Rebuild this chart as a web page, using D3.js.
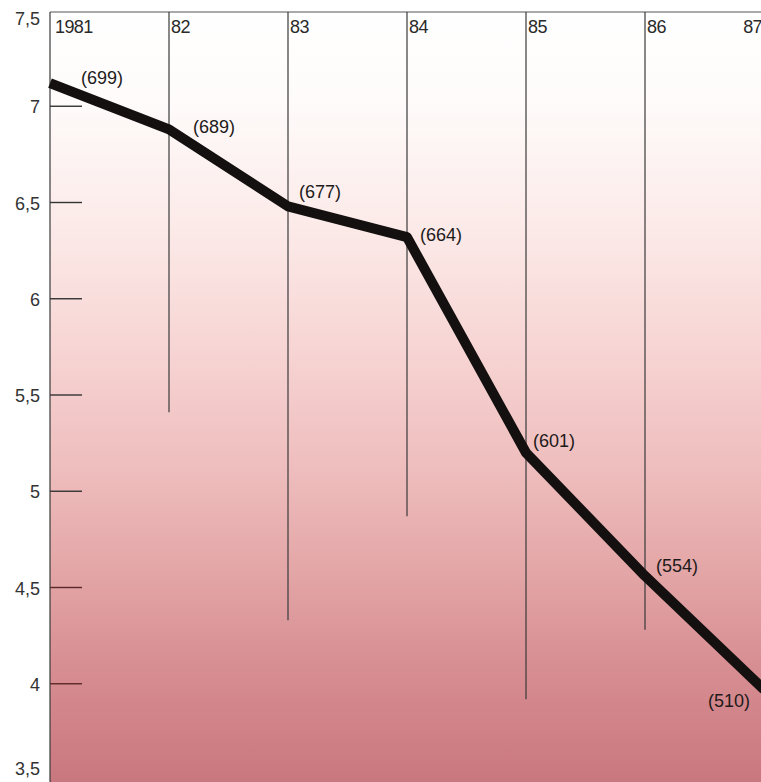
<!DOCTYPE html>
<html>
<head>
<meta charset="utf-8">
<script src="https://cdn.jsdelivr.net/npm/d3@7"></script>
<style>
  html, body { margin: 0; padding: 0; background: #fff; }
  svg { display: block; }
  text { font-family: "Liberation Sans", Arial, Helvetica, sans-serif; }
</style>
</head>
<body>
<svg id="chart" width="761" height="782"></svg>
<script>
// ---- data ----
const years = [1981, 1982, 1983, 1984, 1985, 1986, 1987];
const yearLabels = ["1981", "82", "83", "84", "85", "86", "87"];
const values = [7.12, 6.88, 6.48, 6.32, 5.20, 4.56, 3.97];
const pointLabels = ["(699)", "(689)", "(677)", "(664)", "(601)", "(554)", "(510)"];
const gridEnds = [3.5, 5.41, 4.33, 4.87, 3.92, 4.28, 3.5];
const yTicks = [3.5, 4, 4.5, 5, 5.5, 6, 6.5, 7, 7.5];
const yTickLabels = ["3,5", "4", "4,5", "5", "5,5", "6", "6,5", "7", "7,5"];

// ---- layout ----
const W = 761, H = 782;
const svg = d3.select("#chart");
const x = d3.scaleLinear().domain([1981, 1986]).range([50, 645]);
const y = d3.scaleLinear().domain([3.5, 7.5]).range([780, 10]);

// background gradient
const defs = svg.append("defs");
const grad = defs.append("linearGradient").attr("id", "bg")
  .attr("x1", 0).attr("y1", 0).attr("x2", 0).attr("y2", 1);
[[0, "#ffffff"], [0.12, "#fefbfa"], [0.3, "#fbe8e6"], [0.45, "#f6d3d2"],
 [0.6, "#eebcbc"], [0.72, "#e4a7a8"], [0.85, "#d78e92"], [1, "#c9777e"]]
  .forEach(([o, c]) => grad.append("stop").attr("offset", o).attr("stop-color", c));
svg.append("rect").attr("x", x(1981)).attr("y", y(7.5))
  .attr("width", W - x(1981)).attr("height", H - y(7.5)).attr("fill", "url(#bg)");

// top frame line
svg.append("line").attr("x1", x(1981)).attr("x2", W)
  .attr("y1", y(7.5) + 2).attr("y2", y(7.5) + 2)
  .attr("stroke", "#555").attr("stroke-width", 1.2);

// vertical year lines
svg.append("g").selectAll("line").data(years).join("line")
  .attr("x1", d => x(d)).attr("x2", d => x(d))
  .attr("y1", y(7.5) + 2)
  .attr("y2", (d, i) => i === 0 ? H : y(gridEnds[i]))
  .attr("stroke", "#3a3a3a").attr("stroke-width", 1.2);

// year labels
svg.append("g").selectAll("text").data(years).join("text")
  .attr("x", (d, i) => i === years.length - 1 ? W + 1 : x(d) + (i === 0 ? 5 : 2))
  .attr("y", 33)
  .attr("text-anchor", (d, i) => i === years.length - 1 ? "end" : "start")
  .attr("font-size", 18).attr("fill", "#2a2a2a")
  .attr("letter-spacing", -0.6)
  .text((d, i) => yearLabels[i]);

// y ticks (short marks)
svg.append("g").selectAll("line").data(yTicks.filter(t => t > 3.5 && t < 7.5)).join("line")
  .attr("x1", x(1981)).attr("x2", x(1981) + 32)
  .attr("y1", d => y(d)).attr("y2", d => y(d))
  .attr("stroke", d => d <= 4.5 ? "#5a2a2a" : "#333")
  .attr("stroke-width", 1.4);

// y tick labels
svg.append("g").selectAll("text").data(yTicks).join("text")
  .attr("x", 40)
  .attr("y", d => d === 7.5 ? 25 : d === 3.5 ? 775 : y(d) + 7)
  .attr("text-anchor", "end")
  .attr("font-size", 18).attr("fill", "#333")
  .text((d, i) => yTickLabels[i]);

// main line
const pts = years.map((yr, i) => [yr, values[i]]);
svg.append("path").datum(pts)
  .attr("d", d3.line().x(d => x(d[0])).y(d => y(d[1])))
  .attr("fill", "none").attr("stroke", "#141010")
  .attr("stroke-width", 10).attr("stroke-linejoin", "round");

// point labels (offsets relative to each data point)
const labelOffsets = [[31, 1], [24, 4], [11, -8], [13, 4], [7, -6], [11, -4], [-56, 17]];
svg.append("g").selectAll("text").data(pts).join("text")
  .attr("x", (d, i) => x(d[0]) + labelOffsets[i][0])
  .attr("y", (d, i) => y(d[1]) + labelOffsets[i][1])
  .attr("font-size", 18).attr("fill", "#1e1a1a")
  .text((d, i) => pointLabels[i]);
</script>
</body>
</html>
